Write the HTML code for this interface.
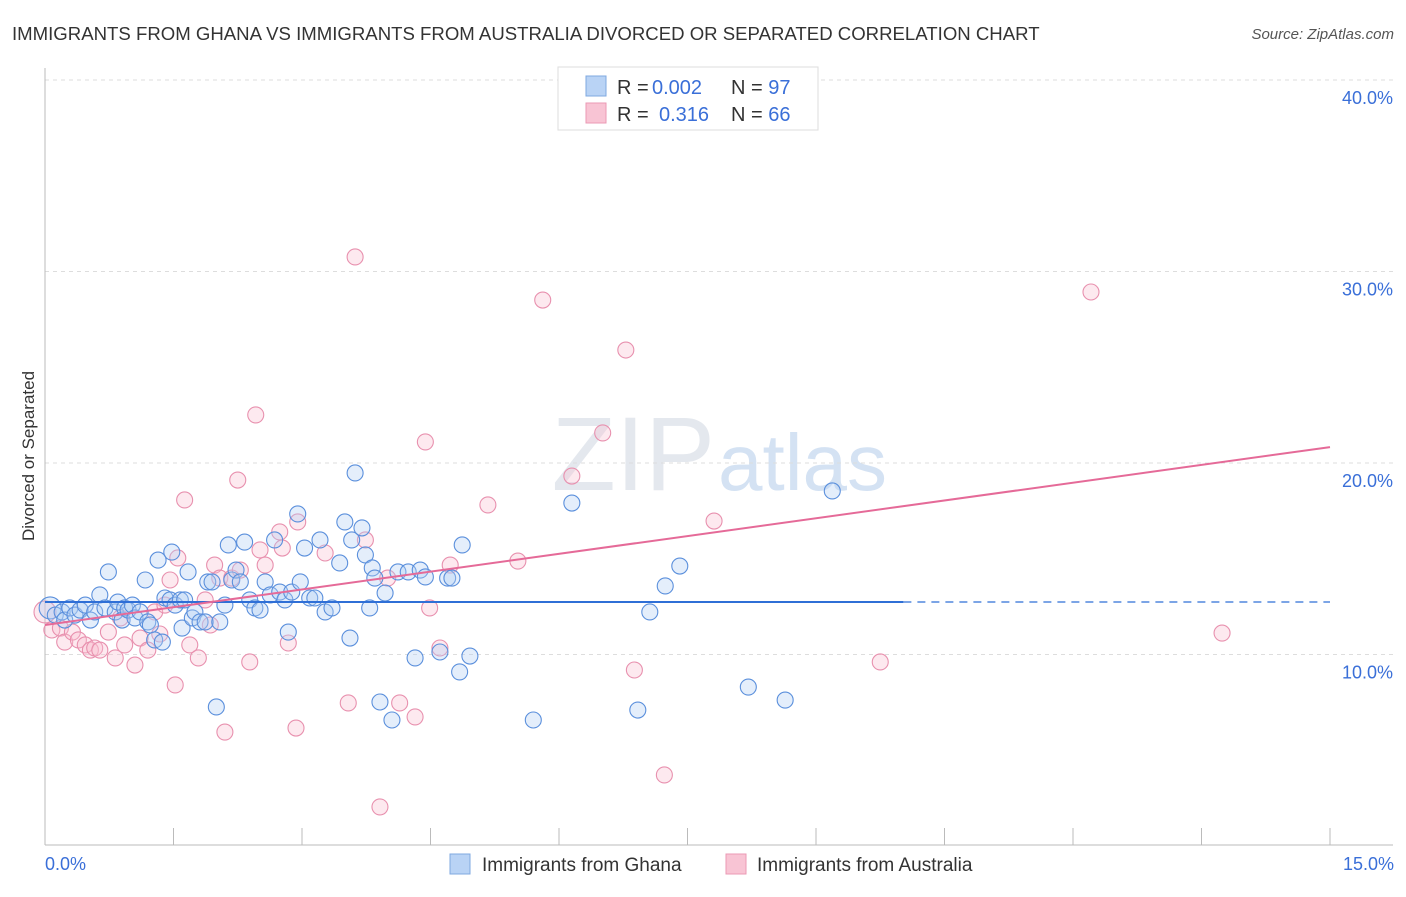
<!DOCTYPE html>
<html><head><meta charset="utf-8"><style>
body{margin:0;background:#fff;font-family:"Liberation Sans",sans-serif;}
svg text{font-family:"Liberation Sans",sans-serif;}
</style></head><body>
<svg id="c" width="1406" height="892">
<text x="12" y="40" font-size="18.6" fill="#333">IMMIGRANTS FROM GHANA VS IMMIGRANTS FROM AUSTRALIA DIVORCED OR SEPARATED CORRELATION CHART</text>
<text x="1394" y="39" font-size="15" fill="#555" text-anchor="end" font-style="italic">Source: ZipAtlas.com</text>
<text transform="translate(34,456) rotate(-90)" font-size="17" fill="#333" text-anchor="middle">Divorced or Separated</text>
<text x="715" y="490" font-size="105" fill="#e4e8ee" font-family="Liberation Serif" text-anchor="end">ZIP</text>
<text x="718" y="490" font-size="80" fill="#d4e2f3">atlas</text>
<g id="grid"></g><g id="pts"></g><g id="lines"></g>
<g>
<rect x="558" y="67" width="260" height="63" fill="#fff" stroke="#ddd"/>
<rect x="586" y="76" width="20" height="20" fill="#b9d3f5" stroke="#7fa8e0"/>
<rect x="586" y="103" width="20" height="20" fill="#f8c4d4" stroke="#eb9ab4"/>
<text x="617" y="94" font-size="20" fill="#333">R = </text>
<text x="652" y="94" font-size="20" fill="#3a6fd8">0.002</text>
<text x="731" y="94" font-size="20" fill="#333">N = <tspan fill="#3a6fd8">97</tspan></text>
<text x="617" y="121" font-size="20" fill="#333">R = </text>
<text x="659" y="121" font-size="20" fill="#3a6fd8">0.316</text>
<text x="731" y="121" font-size="20" fill="#333">N = <tspan fill="#3a6fd8">66</tspan></text>
</g>
<g>
<rect x="450" y="854" width="20" height="20" fill="#b9d3f5" stroke="#7fa8e0"/>
<text x="482" y="871" font-size="19" fill="#333">Immigrants from Ghana</text>
<rect x="726" y="854" width="20" height="20" fill="#f8c4d4" stroke="#eb9ab4"/>
<text x="757" y="871" font-size="19" fill="#333">Immigrants from Australia</text>
</g>
<text x="45" y="870" font-size="18" fill="#3a6fd8">0.0%</text>
<text x="1394" y="870" font-size="18" fill="#3a6fd8" text-anchor="end">15.0%</text>
</svg>
<script>
const yTicks=[10,20,30,40];
const yTickLabels=["10.0%","20.0%","30.0%","40.0%"];
const xTicks=[0,1.5,3,4.5,6,7.5,9,10.5,12,13.5,15];
const ghanaX=[0.06,0.12,0.20,0.23,0.29,0.35,0.41,0.47,0.53,0.58,0.64,0.70,0.74,0.82,0.85,0.90,0.93,0.97,1.02,1.05,1.11,1.17,1.20,1.23,1.28,1.32,1.37,1.40,1.46,1.48,1.52,1.58,1.60,1.63,1.67,1.72,1.75,1.81,1.87,1.90,1.95,2.00,2.04,2.10,2.14,2.18,2.23,2.28,2.33,2.39,2.45,2.51,2.57,2.63,2.68,2.74,2.80,2.84,2.88,2.95,2.98,3.03,3.09,3.15,3.21,3.27,3.35,3.44,3.50,3.56,3.58,3.62,3.70,3.74,3.79,3.82,3.85,3.91,3.97,4.05,4.12,4.24,4.32,4.38,4.44,4.61,4.70,4.75,4.84,4.87,4.96,5.70,6.15,6.92,7.06,7.24,7.41,8.21,8.64,9.19];
const ghanaY=[12.43,12.06,12.22,11.80,12.43,12.06,12.32,12.58,11.80,12.22,13.11,12.43,14.31,12.22,12.74,11.80,12.43,12.32,12.58,11.91,12.22,13.89,11.70,11.54,10.76,14.93,10.65,12.95,12.85,15.35,12.58,12.85,11.38,12.85,14.31,11.91,12.22,11.70,11.70,13.79,13.79,7.26,11.70,12.58,15.72,13.89,14.41,13.79,15.87,12.85,12.43,12.32,13.79,13.11,15.98,13.26,12.85,11.17,13.26,17.34,13.79,15.56,12.95,12.95,15.98,12.22,12.43,14.78,16.92,10.86,15.98,19.48,16.61,15.20,12.43,14.52,13.99,7.52,13.21,6.58,14.31,14.31,9.82,14.41,14.05,10.13,13.99,13.99,9.09,15.72,9.92,6.58,17.91,7.10,12.22,13.58,14.62,8.30,7.62,18.54];
const ausX=[0.00,0.08,0.18,0.23,0.32,0.39,0.47,0.53,0.58,0.64,0.74,0.82,0.88,0.93,1.05,1.11,1.20,1.28,1.34,1.40,1.46,1.52,1.55,1.63,1.69,1.79,1.87,1.93,1.98,2.04,2.10,2.18,2.25,2.28,2.39,2.46,2.51,2.57,2.74,2.77,2.84,2.93,2.95,3.27,3.54,3.62,3.74,3.91,4.00,4.14,4.32,4.44,4.49,4.61,4.73,5.17,5.52,5.81,6.15,6.51,6.78,6.88,7.23,7.81,9.75,12.21,13.74];
const ausY=[12.22,11.28,11.38,10.65,11.17,10.76,10.50,10.23,10.34,10.23,11.17,9.82,11.91,10.50,9.45,10.86,10.23,12.22,11.07,12.58,13.89,8.41,15.04,18.07,10.50,9.82,12.85,11.54,14.67,13.99,5.95,13.99,19.11,14.41,9.61,22.51,15.46,14.67,16.40,15.56,10.60,6.16,16.92,15.30,7.47,30.76,15.98,2.04,13.99,7.47,6.74,21.10,12.43,10.34,14.67,17.81,14.88,28.51,19.32,21.57,25.90,9.19,3.71,16.97,9.61,28.93,11.12];
const ghanaTrend=[12.74,12.74]; const ghanaSolidEnd=10.02;
const ausTrend=[11.54,20.83];

const NS="http://www.w3.org/2000/svg";
const X=v=>45+v/15*1285, Y=v=>846-v*19.15;
function mk(t,a,p){const e=document.createElementNS(NS,t);for(const k in a)e.setAttribute(k,a[k]);p.appendChild(e);return e;}
const grid=document.getElementById('grid'),pts=document.getElementById('pts'),lines=document.getElementById('lines');
yTicks.forEach((v,i)=>{
 const l=mk('line',{x1:45,x2:1393,y1:Y(v),y2:Y(v),stroke:'#ddd','stroke-dasharray':'4,4'},grid);
 
 
 const t=mk('text',{x:1393,y:Y(v)+24,'font-size':18,fill:'#3a6fd8','text-anchor':'end'},grid);
 t.textContent=yTickLabels[i];
 
 
});
const ax=mk('line',{x1:45,x2:45,y1:68,y2:845,stroke:'#bbb'},grid);


const bx=mk('line',{x1:45,x2:1393,y1:845,y2:845,stroke:'#bbb'},grid);


xTicks.forEach(v=>{
 const t=mk('line',{x1:X(v),x2:X(v),y1:828,y2:845,stroke:'#bbb'},grid);
 
 
});
function dots(xs,ys,fill,stroke,name){
 xs.forEach((x,i)=>{
  const c=mk('circle',{cx:X(x),cy:Y(ys[i]),r:i===0?11:8,fill:fill,'fill-opacity':0.35,stroke:stroke,'stroke-width':1.1},pts);
  
  
 });
}
dots(ausX,ausY,'#f8c0d2','#e890ae','point-australia');
dots(ghanaX,ghanaY,'#b3cff3','#5a8fdc','point-ghana');
const g1=mk('line',{x1:X(0),y1:Y(ghanaTrend[0]),x2:X(ghanaSolidEnd),y2:Y(ghanaTrend[0]+(ghanaTrend[1]-ghanaTrend[0])*ghanaSolidEnd/15),stroke:'#2f6fd6','stroke-width':2},lines);


const g2=mk('line',{x1:X(ghanaSolidEnd),y1:Y(ghanaTrend[0]+(ghanaTrend[1]-ghanaTrend[0])*ghanaSolidEnd/15),x2:X(15),y2:Y(ghanaTrend[1]),stroke:'#2f6fd6','stroke-width':1.3,'stroke-dasharray':'8,6'},lines);


const a1=mk('line',{x1:X(0),y1:Y(ausTrend[0]),x2:X(15),y2:Y(ausTrend[1]),stroke:'#e56a98','stroke-width':2},lines);


</script>
</body></html>
